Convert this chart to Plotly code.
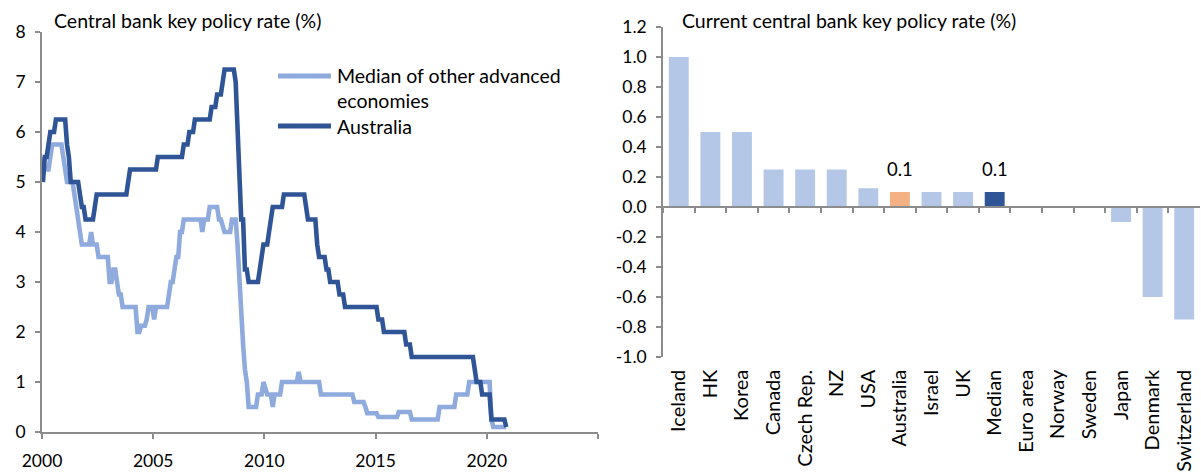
import plotly.graph_objects as go

# ---------------------------------------------------------------------------
# Left panel: monthly central bank key policy rates, Jan 2000 - Nov 2020 (%)
# ---------------------------------------------------------------------------
median_other_rate = [
    5.5, 5.25, 5.25, 5.25, 5.5, 5.75, 5.75, 5.75, 5.75, 5.75, 5.75, 5.5,      # 2000
    5.25, 5.0, 5.0, 5.0, 5.0, 4.75, 4.5, 4.25, 4.0, 3.75, 3.75, 3.75,         # 2001
    3.75, 3.75, 4.0, 3.75, 3.75, 3.75, 3.5, 3.5, 3.5, 3.5, 3.5, 3.5,          # 2002
    3.0, 3.0, 3.25, 3.25, 3.0, 2.75, 2.75, 2.5, 2.5, 2.5, 2.5, 2.5,           # 2003
    2.5, 2.5, 2.5, 2.0, 2.0, 2.125, 2.125, 2.125, 2.25, 2.5, 2.5, 2.5,        # 2004
    2.25, 2.5, 2.5, 2.5, 2.5, 2.5, 2.5, 2.5, 2.75, 3.0, 3.0, 3.25,            # 2005
    3.5, 3.5, 4.0, 4.0, 4.25, 4.25, 4.25, 4.25, 4.25, 4.25, 4.25, 4.25,       # 2006
    4.25, 4.25, 4.0, 4.25, 4.25, 4.25, 4.5, 4.5, 4.5, 4.5, 4.5, 4.25,         # 2007
    4.25, 4.125, 4.0, 4.0, 4.0, 4.0, 4.25, 4.25, 4.25, 3.75, 3.0, 2.25,       # 2008
    1.75, 1.25, 1.0, 0.5, 0.5, 0.5, 0.5, 0.5, 0.75, 0.75, 0.75, 1.0,          # 2009
    0.875, 0.75, 0.75, 0.75, 0.5, 0.75, 0.75, 0.75, 0.75, 1.0, 1.0, 1.0,      # 2010
    1.0, 1.0, 1.0, 1.0, 1.0, 1.0, 1.2, 1.0, 1.0, 1.0, 1.0, 1.0,               # 2011
    1.0, 1.0, 1.0, 1.0, 1.0, 1.0, 0.75, 0.75, 0.75, 0.75, 0.75, 0.75,         # 2012
    0.75, 0.75, 0.75, 0.75, 0.75, 0.75, 0.75, 0.75, 0.75, 0.75, 0.75, 0.75,   # 2013
    0.6, 0.6, 0.6, 0.6, 0.6, 0.6, 0.5, 0.375, 0.375, 0.375, 0.375, 0.375,     # 2014
    0.375, 0.3, 0.3, 0.3, 0.3, 0.3, 0.3, 0.3, 0.3, 0.3, 0.3, 0.3,             # 2015
    0.4, 0.4, 0.4, 0.4, 0.4, 0.4, 0.4, 0.25, 0.25, 0.25, 0.25, 0.25,          # 2016
    0.25, 0.25, 0.25, 0.25, 0.25, 0.25, 0.25, 0.25, 0.25, 0.25, 0.5, 0.5,     # 2017
    0.5, 0.5, 0.5, 0.5, 0.5, 0.5, 0.5, 0.75, 0.75, 0.75, 0.75, 0.75,          # 2018
    0.75, 0.75, 1.0, 1.0, 1.0, 1.0, 1.0, 1.0, 1.0, 1.0, 1.0, 1.0,             # 2019
    1.0, 1.0, 0.25, 0.1, 0.1, 0.1, 0.1, 0.1, 0.1, 0.1, 0.1,                   # 2020
]

australia_rate = [
    5.0, 5.5, 5.5, 5.75, 6.0, 6.0, 6.0, 6.25, 6.25, 6.25, 6.25, 6.25,         # 2000
    6.25, 5.75, 5.5, 5.0, 5.0, 5.0, 5.0, 5.0, 4.75, 4.5, 4.5, 4.25,           # 2001
    4.25, 4.25, 4.25, 4.25, 4.5, 4.75, 4.75, 4.75, 4.75, 4.75, 4.75, 4.75,    # 2002
    4.75, 4.75, 4.75, 4.75, 4.75, 4.75, 4.75, 4.75, 4.75, 4.75, 5.0, 5.25,    # 2003
    5.25, 5.25, 5.25, 5.25, 5.25, 5.25, 5.25, 5.25, 5.25, 5.25, 5.25, 5.25,   # 2004
    5.25, 5.25, 5.5, 5.5, 5.5, 5.5, 5.5, 5.5, 5.5, 5.5, 5.5, 5.5,             # 2005
    5.5, 5.5, 5.5, 5.5, 5.75, 5.75, 5.75, 6.0, 6.0, 6.0, 6.25, 6.25,          # 2006
    6.25, 6.25, 6.25, 6.25, 6.25, 6.25, 6.25, 6.5, 6.5, 6.5, 6.75, 6.75,      # 2007
    6.75, 7.0, 7.25, 7.25, 7.25, 7.25, 7.25, 7.25, 7.0, 6.0, 5.25, 4.25,      # 2008
    4.25, 3.25, 3.25, 3.0, 3.0, 3.0, 3.0, 3.0, 3.0, 3.25, 3.5, 3.75,          # 2009
    3.75, 3.75, 4.0, 4.25, 4.5, 4.5, 4.5, 4.5, 4.5, 4.5, 4.75, 4.75,          # 2010
    4.75, 4.75, 4.75, 4.75, 4.75, 4.75, 4.75, 4.75, 4.75, 4.75, 4.5, 4.25,    # 2011
    4.25, 4.25, 4.25, 4.25, 3.75, 3.5, 3.5, 3.5, 3.5, 3.25, 3.25, 3.0,        # 2012
    3.0, 3.0, 3.0, 3.0, 2.75, 2.75, 2.75, 2.5, 2.5, 2.5, 2.5, 2.5,            # 2013
    2.5, 2.5, 2.5, 2.5, 2.5, 2.5, 2.5, 2.5, 2.5, 2.5, 2.5, 2.5,               # 2014
    2.5, 2.25, 2.25, 2.25, 2.0, 2.0, 2.0, 2.0, 2.0, 2.0, 2.0, 2.0,            # 2015
    2.0, 2.0, 2.0, 2.0, 1.75, 1.75, 1.75, 1.5, 1.5, 1.5, 1.5, 1.5,            # 2016
    1.5, 1.5, 1.5, 1.5, 1.5, 1.5, 1.5, 1.5, 1.5, 1.5, 1.5, 1.5,               # 2017
    1.5, 1.5, 1.5, 1.5, 1.5, 1.5, 1.5, 1.5, 1.5, 1.5, 1.5, 1.5,               # 2018
    1.5, 1.5, 1.5, 1.5, 1.5, 1.25, 1.0, 1.0, 1.0, 0.75, 0.75, 0.75,           # 2019
    0.75, 0.75, 0.25, 0.25, 0.25, 0.25, 0.25, 0.25, 0.25, 0.25, 0.1,          # 2020
]

START_YEAR = 2000
# each monthly observation sits at the middle of its month on a decimal-year axis
month_x = [START_YEAR + (i + 0.5) / 12 for i in range(len(australia_rate))]

year_ticks = [2000, 2005, 2010, 2015, 2020, 2025]
year_tick_text = ["2000", "2005", "2010", "2015", "2020", ""]

# ---------------------------------------------------------------------------
# Right panel: current central bank key policy rates (%)
# ---------------------------------------------------------------------------
countries = ["Iceland", "HK", "Korea", "Canada", "Czech Rep.", "NZ", "USA",
             "Australia", "Israel", "UK", "Median", "Euro area", "Norway",
             "Sweden", "Japan", "Denmark", "Switzerland"]
current_rate = [1.0, 0.5, 0.5, 0.25, 0.25, 0.25, 0.125,
                0.1, 0.1, 0.1, 0.1, 0.0, 0.0,
                0.0, -0.1, -0.6, -0.75]
labelled = ["Australia", "Median"]

rate_ticks = [-1.0, -0.8, -0.6, -0.4, -0.2, 0.0, 0.2, 0.4, 0.6, 0.8, 1.0, 1.2]

# ---------------------------------------------------------------------------
W, H = 1201, 473
DARK = "#2F5597"
LIGHT = "#8FAADC"
BAR = "#B4C7E7"
ORANGE = "#F4B183"
AXIS = "#8C8C8C"
FAMILY = "Lato, Carlito, 'Open Sans', sans-serif"
TEXT_FONT = dict(family=FAMILY, size=19.5, color="#000000")
CAT_FONT = dict(family=FAMILY, size=20, color="#000000")
NUM_FONT = dict(family=FAMILY, size=17.5, color="#000000")
LABEL_FONT = dict(family=FAMILY, size=18.5, color="#000000")


def px_x(p):
    return p / W


def px_y(p):
    return (H - p) / H


bar_colors = [ORANGE if c == "Australia" else DARK if c == "Median" else BAR
              for c in countries]

fig = go.Figure()
fig.add_trace(go.Scatter(x=month_x, y=median_other_rate, mode="lines",
                         line=dict(color=LIGHT, width=4.6),
                         xaxis="x", yaxis="y", hoverinfo="skip"))
fig.add_trace(go.Scatter(x=month_x, y=australia_rate, mode="lines",
                         line=dict(color=DARK, width=4.6),
                         xaxis="x", yaxis="y", hoverinfo="skip"))
fig.add_trace(go.Bar(x=countries, y=current_rate,
                     marker=dict(color=bar_colors, line=dict(width=0)),
                     width=0.63, xaxis="x2", yaxis="y2", hoverinfo="skip"))

# value labels above the highlighted bars
for c, v in zip(countries, current_rate):
    if c in labelled:
        fig.add_annotation(x=c, y=v, xref="x2", yref="y2", text=f"{v:.1f}",
                           showarrow=False, yanchor="middle", yshift=23,
                           font=LABEL_FONT)

axis_common = dict(showgrid=False, zeroline=False, showline=True, linecolor=AXIS,
                   linewidth=1.5, ticks="outside", ticklen=5, tickwidth=1.5,
                   tickcolor=AXIS, automargin=False)

fig.update_layout(
    width=W, height=H,
    margin=dict(l=0, r=0, t=0, b=0),
    paper_bgcolor="white", plot_bgcolor="white",
    font=TEXT_FONT, showlegend=False,
    xaxis=dict(domain=[px_x(42), px_x(598)], range=[2000, 2025], anchor="y",
               tickmode="array", tickvals=year_ticks, ticktext=year_tick_text,
               tickfont=NUM_FONT, ticklabelstandoff=7, **axis_common),
    yaxis=dict(domain=[px_y(432), px_y(32)], range=[0, 8], anchor="x",
               tickmode="array", tickvals=list(range(0, 9)), tickfont=NUM_FONT,
               ticklabelstandoff=6, **axis_common),
    xaxis2=dict(domain=[px_x(663), px_x(1200)], type="category", anchor="free",
                position=px_y(207), tickson="boundaries", tickangle=-90,
                ticklabelstandoff=154, range=[-0.5, len(countries) - 0.5],
                tickfont=CAT_FONT, **axis_common),
    yaxis2=dict(domain=[px_y(357), px_y(27)], range=[-1.0, 1.2], anchor="x2",
                tickmode="array", tickvals=rate_ticks,
                ticktext=[f"{v:.1f}" for v in rate_ticks], tickfont=NUM_FONT,
                ticklabelstandoff=6, **axis_common),
    bargap=0.37,
)

# panel titles
fig.add_annotation(text="Central bank key policy rate (%)", xref="paper", yref="paper",
                   x=px_x(52), y=px_y(20), xanchor="left", yanchor="middle",
                   showarrow=False, font=TEXT_FONT)
fig.add_annotation(text="Current central bank key policy rate (%)", xref="paper", yref="paper",
                   x=px_x(680), y=px_y(20), xanchor="left", yanchor="middle",
                   showarrow=False, font=TEXT_FONT)

# legend for the left panel
legend_items = [("Median of other advanced<br>economies", LIGHT, 76, 88),
                ("Australia", DARK, 126, 126)]
for label, colour, line_y, text_y in legend_items:
    fig.add_shape(type="line", xref="paper", yref="paper",
                  x0=px_x(278), x1=px_x(331), y0=px_y(line_y), y1=px_y(line_y),
                  line=dict(color=colour, width=5))
    fig.add_annotation(text=label, xref="paper", yref="paper", align="left",
                       x=px_x(335), y=px_y(text_y), xanchor="left", yanchor="middle",
                       showarrow=False, font=TEXT_FONT)

fig.write_html("out.html")
